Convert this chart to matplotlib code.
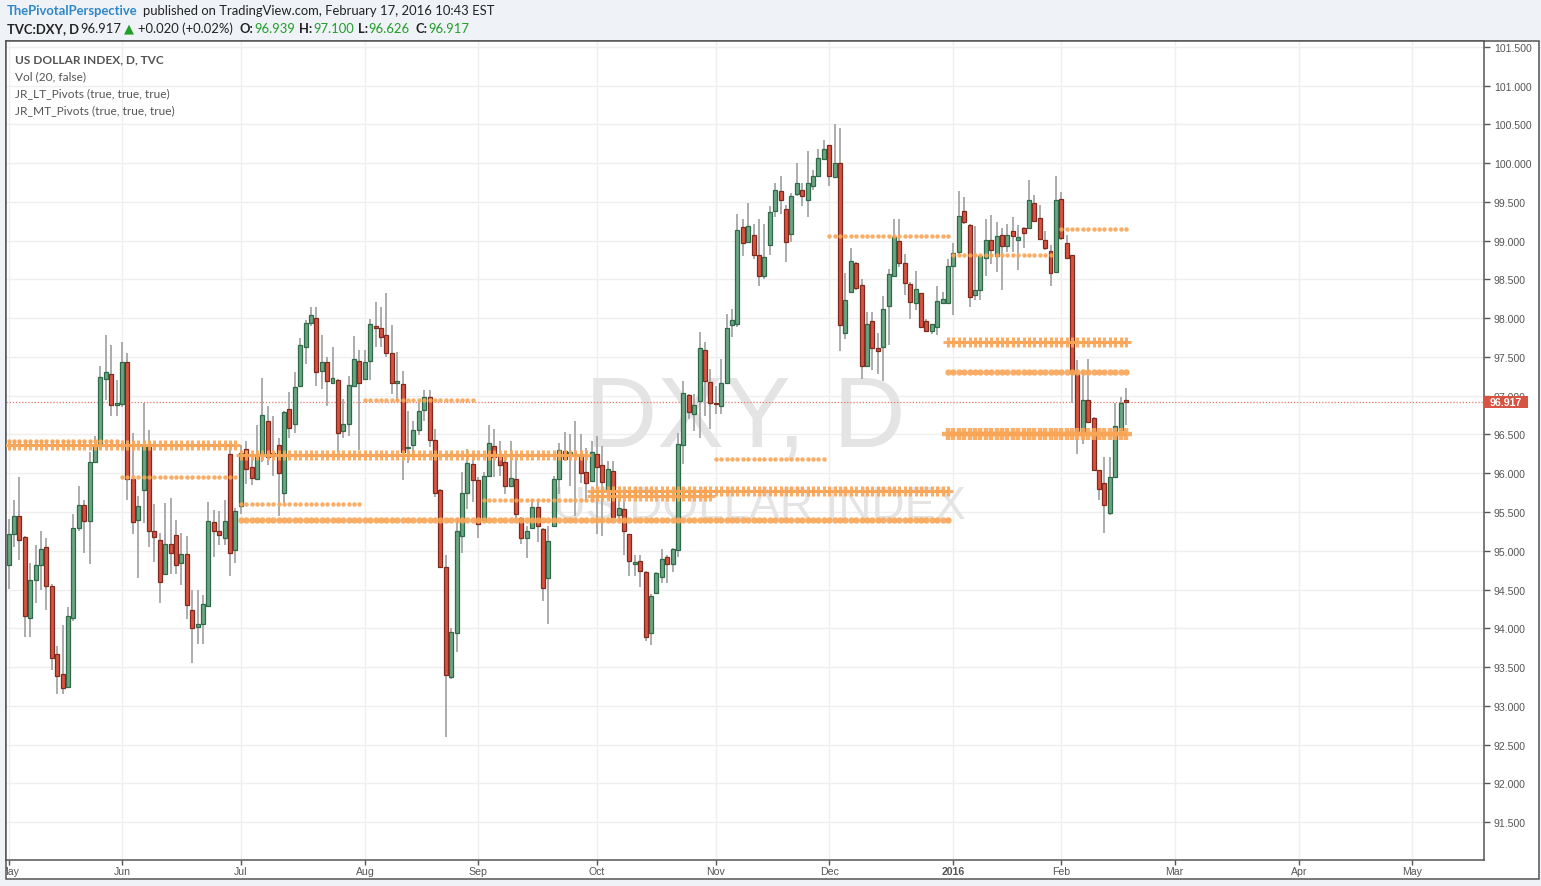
import numpy as np
import pandas as pd
import matplotlib
matplotlib.use('Agg')
import matplotlib.pyplot as plt
from matplotlib.patches import Rectangle
from matplotlib.transforms import blended_transform_factory

# ---- data ----
opens = [
    94.82, 95.21, 95.45, 95.18, 94.13, 94.62, 94.82, 95.05, 94.55, 93.67,
    93.41, 93.24, 94.13, 95.30, 95.59, 95.39, 96.15, 96.37, 97.22, 97.28,
    96.88, 96.89, 97.44, 95.93, 95.40, 95.78, 96.34, 95.25, 95.14, 94.70,
    95.09, 95.20, 94.84, 94.96, 94.23, 94.01, 94.05, 94.29, 95.37, 95.25,
    95.16, 96.25, 95.01, 95.58, 96.31, 96.08, 95.92, 96.25, 96.67, 96.22,
    96.37, 95.75, 96.83, 96.63, 97.13, 97.63, 97.94, 98.00, 97.32, 97.43,
    97.16, 97.20, 96.55, 96.63, 97.12, 97.45, 97.22, 97.45, 97.90, 97.87,
    97.78, 97.55, 97.17, 97.15, 96.32, 96.36, 96.56, 96.82, 96.99, 96.43,
    95.79, 94.79, 93.37, 93.94, 95.19, 95.75, 96.12, 95.91, 95.40, 95.96,
    96.35, 96.21, 96.14, 95.83, 95.93, 95.42, 95.17, 95.29, 95.57, 95.28,
    94.65, 95.32, 95.92, 96.29, 96.23, 96.24, 96.24, 96.01, 95.90, 96.25,
    96.11, 95.80, 96.03, 95.46, 95.54, 95.22, 94.83, 94.87, 94.73, 93.94,
    94.45, 94.66, 94.92, 94.83, 95.01, 96.37, 97.01, 96.77, 96.93, 97.59,
    97.18, 96.91, 96.87, 97.17, 97.91, 97.92, 99.18, 98.99, 99.07, 98.81,
    98.55, 98.95, 99.38, 99.64, 99.41, 99.09, 99.60, 99.66, 99.53, 99.71,
    99.84, 100.06, 100.24, 99.82, 100.00, 97.81, 98.34, 98.71, 98.43, 97.39,
    97.96, 97.61, 97.63, 98.16, 98.54, 99.00, 98.71, 98.44, 98.20, 98.33,
    97.97, 97.84, 97.89, 98.20, 98.20, 98.68, 98.85, 99.38, 99.20, 98.30,
    98.36, 98.78, 99.01, 98.80, 99.08, 98.93, 99.13, 99.01, 99.16, 99.16,
    99.49, 99.29, 99.01, 98.87, 98.60, 99.54, 98.97, 98.81, 97.28, 96.54,
    96.95, 96.71, 96.04, 95.87, 95.49, 95.95, 96.56, 96.939]

highs = [
    95.41, 95.65, 95.95, 95.19, 94.84, 95.07, 95.26, 95.17, 94.57, 93.77,
    94.04, 94.28, 95.48, 95.84, 95.66, 96.28, 96.48, 97.38, 97.78, 97.65,
    97.20, 97.69, 97.55, 96.52, 95.70, 96.91, 96.56, 95.60, 95.23, 95.61,
    95.68, 95.40, 95.23, 95.19, 94.50, 94.49, 94.43, 95.63, 95.53, 95.51,
    95.66, 96.37, 95.55, 96.36, 96.41, 96.23, 96.62, 97.23, 96.87, 96.74,
    96.46, 96.80, 97.05, 97.30, 97.75, 97.98, 98.14, 98.15, 97.78, 97.50,
    97.63, 97.22, 96.96, 97.26, 97.77, 97.59, 97.59, 97.99, 98.21, 98.15,
    98.33, 97.91, 97.57, 97.32, 96.80, 96.68, 96.94, 97.07, 97.07, 96.57,
    95.80, 94.95, 94.00, 95.42, 96.01, 96.31, 96.25, 95.95, 96.01, 96.62,
    96.57, 96.42, 96.22, 96.41, 96.20, 95.43, 95.32, 95.67, 95.67, 95.30,
    95.32, 95.97, 96.39, 96.53, 96.50, 96.68, 96.50, 96.33, 96.41, 96.48,
    96.35, 96.16, 96.16, 95.66, 95.64, 95.22, 94.95, 94.95, 94.74, 94.44,
    94.72, 95.02, 94.95, 95.04, 96.52, 97.19, 97.02, 97.02, 97.82, 97.69,
    97.34, 97.12, 97.47, 98.05, 98.12, 99.34, 99.28, 99.49, 99.22, 99.28,
    99.21, 99.45, 99.74, 99.84, 99.46, 99.61, 100.00, 99.74, 100.16, 99.91,
    100.19, 100.30, 100.24, 100.50, 100.46, 98.59, 98.90, 98.72, 98.50, 98.08,
    98.08, 97.81, 98.29, 98.64, 99.28, 99.28, 98.83, 98.47, 98.61, 98.33,
    97.99, 97.93, 98.41, 98.34, 98.77, 98.97, 99.64, 99.57, 99.22, 99.19,
    98.81, 99.28, 99.33, 99.24, 99.16, 99.22, 99.31, 99.20, 99.18, 99.79,
    99.59, 99.46, 99.13, 98.94, 99.83, 99.63, 99.07, 98.81, 97.46, 97.33,
    97.47, 96.73, 96.04, 96.21, 96.21, 96.90, 96.98, 97.100]

lows = [
    94.51, 95.05, 94.88, 93.89, 93.89, 94.33, 94.50, 94.24, 93.46, 93.15,
    93.15, 93.24, 94.10, 95.25, 94.97, 94.83, 96.14, 96.30, 96.95, 96.74,
    96.74, 96.85, 95.66, 95.22, 94.65, 95.36, 95.05, 94.85, 94.33, 94.70,
    94.70, 94.70, 94.56, 94.12, 93.55, 93.80, 93.80, 94.29, 94.92, 95.07,
    95.07, 94.67, 94.84, 95.47, 95.86, 95.85, 95.92, 96.15, 96.10, 95.97,
    95.45, 95.62, 96.46, 96.52, 97.13, 97.41, 97.90, 97.13, 97.09, 96.87,
    97.16, 96.28, 96.46, 96.48, 97.12, 96.30, 97.22, 97.20, 97.63, 97.63,
    97.50, 97.02, 96.92, 95.91, 96.13, 96.21, 96.49, 96.68, 96.34, 95.69,
    94.78, 92.60, 93.35, 93.70, 94.97, 95.54, 95.63, 95.17, 95.38, 95.95,
    95.95, 95.97, 95.73, 95.82, 95.41, 95.09, 94.91, 95.28, 95.11, 94.35,
    94.06, 95.31, 95.73, 96.16, 95.84, 95.45, 95.87, 95.64, 95.90, 95.21,
    95.19, 95.80, 95.41, 95.38, 94.95, 94.68, 94.68, 94.53, 93.84, 93.79,
    94.44, 94.58, 94.58, 94.72, 94.92, 96.12, 96.70, 96.55, 96.46, 96.74,
    96.57, 96.76, 96.76, 97.17, 97.76, 97.89, 98.80, 98.99, 98.77, 98.41,
    98.51, 98.82, 99.30, 99.34, 98.72, 98.98, 99.58, 99.45, 99.30, 99.65,
    99.84, 100.06, 99.70, 99.82, 97.58, 97.73, 98.32, 98.37, 97.22, 97.39,
    97.33, 97.28, 97.19, 97.65, 98.54, 98.66, 98.30, 97.99, 98.10, 97.88,
    97.82, 97.80, 97.78, 98.20, 98.19, 98.04, 98.83, 99.22, 98.15, 98.23,
    98.24, 98.55, 98.70, 98.60, 98.37, 98.85, 98.85, 98.62, 98.90, 99.15,
    99.26, 99.02, 98.88, 98.42, 98.60, 99.01, 98.77, 96.90, 96.25, 96.38,
    96.66, 96.03, 95.65, 95.23, 95.46, 95.95, 96.56, 96.626]

closes = [
    95.21, 95.45, 95.14, 94.16, 94.62, 94.82, 95.02, 94.55, 93.62, 93.39,
    93.23, 94.16, 95.30, 95.59, 95.39, 96.14, 96.37, 97.24, 97.31, 96.88,
    96.90, 97.43, 95.93, 95.37, 95.58, 96.35, 95.25, 95.18, 94.60, 95.09,
    94.97, 94.82, 94.96, 94.30, 94.00, 94.05, 94.31, 95.39, 95.26, 95.20,
    95.38, 94.97, 95.51, 96.26, 96.05, 95.94, 96.25, 96.75, 96.21, 96.26,
    96.00, 96.79, 96.59, 97.11, 97.65, 97.94, 98.04, 97.30, 97.43, 97.19,
    97.23, 96.52, 96.63, 97.14, 97.47, 97.17, 97.43, 97.93, 97.88, 97.76,
    97.55, 97.17, 97.19, 96.28, 96.34, 96.56, 96.80, 96.99, 96.43, 95.75,
    94.79, 93.40, 93.95, 95.26, 95.75, 96.13, 95.91, 95.35, 95.96, 96.39,
    96.21, 96.11, 95.84, 95.94, 95.48, 95.17, 95.26, 95.57, 95.32, 94.52,
    95.13, 95.92, 96.30, 96.18, 96.27, 96.25, 96.00, 95.88, 96.27, 96.08,
    95.89, 96.05, 95.44, 95.55, 95.26, 94.87, 94.86, 94.74, 93.89, 94.42,
    94.71, 94.90, 94.83, 95.02, 96.38, 97.03, 96.79, 96.88, 97.61, 97.19,
    96.90, 96.89, 97.16, 97.87, 97.98, 99.14, 98.97, 99.19, 98.82, 98.54,
    98.79, 99.37, 99.66, 99.53, 98.98, 99.58, 99.74, 99.58, 99.74, 99.84,
    100.07, 100.19, 99.83, 100.00, 97.91, 98.23, 98.74, 98.39, 97.38, 97.93,
    97.61, 97.58, 98.12, 98.57, 99.05, 98.71, 98.45, 98.21, 98.38, 97.89,
    97.84, 97.93, 98.22, 98.25, 98.68, 98.84, 99.32, 99.24, 98.28, 98.36,
    98.80, 99.01, 98.88, 99.06, 98.93, 99.08, 99.06, 99.05, 99.10, 99.53,
    99.26, 99.02, 98.90, 98.58, 99.53, 99.03, 98.78, 97.29, 96.54, 96.95,
    96.66, 96.04, 95.80, 95.59, 95.95, 96.61, 96.90, 96.917]

last_price = 96.917

# pivot levels: level, first bar, last bar, kind
piv_level = [96.36, 96.42, 95.95, 96.24, 95.60, 95.40, 96.95, 95.66, 95.77,
             95.71, 96.19, 99.06, 98.82, 99.15, 97.69, 97.30, 96.50]
piv_start = [0, 0, 21, 43, 43, 43, 66, 88, 108, 108, 131, 152, 175, 195, 174, 174, 174]
piv_end = [42, 20, 42, 107, 65, 174, 86, 108, 174, 130, 151, 174, 193, 207, 207, 207, 207]
piv_kind = ['LT', 'MT', 'MT', 'LT', 'MT', 'LT_dot', 'MT', 'MT', 'LT', 'LT',
            'MT', 'MT', 'MT', 'MT', 'LT', 'LT_dot', 'LT_big']

# trading days (DXY chart skips New Year's day)
dates = pd.bdate_range('2015-05-01', '2016-05-31')
dates = dates[dates != pd.Timestamp('2016-01-01')]

# ---- styling ----
UP, UP_EDGE = '#6ba583', '#2f6a48'
DOWN, DOWN_EDGE = '#d75442', '#7e2a1f'
WICK = '#a6a6a6'
ORANGE = '#f9a556'
TEXT = '#555555'
PIV_STYLE = {'MT': dict(marker='o', ms=3.2, mew=0),
             'LT_dot': dict(marker='o', ms=4.6, mew=0),
             'LT': dict(marker='+', ms=7, mew=2.2),
             'LT_big': dict(marker='+', ms=9, mew=3.2)}

W, H = 1541, 887
fig = plt.figure(figsize=(W / 100, H / 100), dpi=100)
fig.patch.set_facecolor('#eff2f6')


def fx(px):
    return px / W


def fy(py):
    return 1 - py / H


# outer chart frame
fig.add_artist(Rectangle((fx(6), fy(880)), fx(1539) - fx(6), fy(42) - fy(880),
                         transform=fig.transFigure, facecolor='white',
                         edgecolor=TEXT, lw=1.1, zorder=0))

ax = fig.add_axes([fx(6), fy(861), fx(1484) - fx(6), fy(42) - fy(861)])
ax.set_facecolor('white')

o = np.array(opens)
h = np.array(highs)
lo = np.array(lows)
c = np.array(closes)
x = np.arange(len(o))
up = c >= o
body_lo = np.minimum(o, c)
body_h = np.maximum(np.abs(c - o), 0.012)

ax.vlines(x, lo, h, color=WICK, lw=1.3, zorder=3)
ax.bar(x[up], body_h[up], bottom=body_lo[up], width=0.74, color=UP,
       edgecolor=UP_EDGE, lw=0.9, zorder=4)
ax.bar(x[~up], body_h[~up], bottom=body_lo[~up], width=0.74, color=DOWN,
       edgecolor=DOWN_EDGE, lw=0.9, zorder=4)

# pivots
for lev, s, e, k in zip(piv_level, piv_start, piv_end, piv_kind):
    xs = np.arange(s, e + 1)
    ax.plot(xs, np.full(len(xs), lev), ls='none', color=ORANGE, alpha=0.9,
            zorder=5, **PIV_STYLE[k])

# last price line
ax.axhline(last_price, color='#e8786c', lw=0.9, ls=(0, (1, 1.5)), zorder=2)

# month ticks
months = pd.Series(dates.month)
tick_pos = [0] + list(np.where(months.values[1:] != months.values[:-1])[0] + 1)
tick_lab = ['2016' if dates[i].month == 1 else dates[i].strftime('%b') for i in tick_pos]

ax.set_xlim(-0.48, 273.3)
ax.set_ylim(91.01, 101.577)
ax.set_xticks(tick_pos)
ax.set_xticklabels([])
ax.tick_params(axis='x', length=0)
yt = np.arange(91.5, 101.51, 0.5)
ax.set_yticks(yt)
ax.set_yticklabels([f'{v:.3f}' for v in yt])
ax.yaxis.tick_right()
ax.tick_params(axis='y', direction='out', length=4, width=1, color=TEXT,
               labelsize=7.6, labelcolor=TEXT, pad=3)
for lab in ax.get_yticklabels():
    lab.set_fontfamily('Liberation Sans')
ax.grid(True, color='#efefef', lw=1, zorder=0)
ax.set_axisbelow(True)
for sp in ax.spines.values():
    sp.set_color(TEXT)
    sp.set_linewidth(1.1)

# watermark
ax.text(fx(745), fy(421), 'DXY, D', transform=fig.transFigure, ha='center',
        va='center', fontsize=72, color='#e4e4e4', family='Liberation Sans',
        zorder=1)
ax.text(fx(759), fy(507), 'US DOLLAR INDEX', transform=fig.transFigure,
        ha='center', va='center', fontsize=33, color='#e4e4e4',
        family='Liberation Sans', zorder=1)

# price label box
tr = blended_transform_factory(ax.transAxes, ax.transData)
ax.add_patch(Rectangle((1.0, last_price - 0.081), 44 / 1478, 0.162, transform=tr,
                       facecolor='#d75442', edgecolor='none', clip_on=False,
                       zorder=10))
ax.text(1.0 + 22 / 1478, last_price, f'{last_price:.3f}', transform=tr,
        ha='center', va='center', color='white', fontsize=7.6,
        fontweight='bold', family='Liberation Sans', zorder=11, clip_on=False)

# date strip
ax_d = fig.add_axes([fx(6), fy(880), fx(1484) - fx(6), fy(861) - fy(880)])
ax_d.set_xlim(ax.get_xlim())
ax_d.set_ylim(0, 19)
ax_d.axis('off')
for pos, lab in zip(tick_pos, tick_lab):
    ax_d.vlines(pos, 14.5, 19, color=TEXT, lw=1)
    ax_d.text(pos, 8, lab, ha='center', va='center', fontsize=7.6, color=TEXT,
              family='Liberation Sans',
              fontweight='bold' if lab == '2016' else 'normal', clip_on=True)

# legend block
fig.text(fx(15), fy(60), 'US DOLLAR INDEX, D, TVC', fontsize=8.6,
         fontweight='bold', color=TEXT, family='Lato', va='center')
for yy, s in zip([77, 94, 111], ['Vol (20, false)', 'JR_LT_Pivots (true, true, true)',
                                 'JR_MT_Pivots (true, true, true)']):
    fig.text(fx(15), fy(yy), s, fontsize=8.6, color=TEXT, family='Lato', va='center')

# header
fig.text(fx(7), fy(11), 'ThePivotalPerspective', fontsize=9.4, fontweight='bold',
         color='#2f87c9', family='Lato', va='center')
fig.text(fx(143), fy(11), 'published on TradingView.com, February 17, 2016 10:43 EST',
         fontsize=9.4, color='#222222', family='Lato', va='center')
GREEN = '#1f9e28'
hdr = [(7, 'TVC:DXY, D', '#222222', 'bold'), (80, '96.917', '#222222', 'normal'),
       (124, '\u25b2', GREEN, 'normal'), (138, '+0.020 (+0.02%)', '#222222', 'normal'),
       (239, 'O:', '#222222', 'bold'), (254, '96.939', GREEN, 'normal'),
       (299, 'H:', '#222222', 'bold'), (313, '97.100', GREEN, 'normal'),
       (358, 'L:', '#222222', 'bold'), (368, '96.626', GREEN, 'normal'),
       (416, 'C:', '#222222', 'bold'), (428, '96.917', GREEN, 'normal')]
for px_, s, col, wt in hdr:
    fam = ['DejaVu Sans'] if s == '\u25b2' else ['Lato']
    fig.text(fx(px_), fy(29), s, fontsize=9.4, color=col, fontweight=wt,
             family=fam, va='center')

fig.savefig('out.png', dpi=100, facecolor=fig.get_facecolor())
